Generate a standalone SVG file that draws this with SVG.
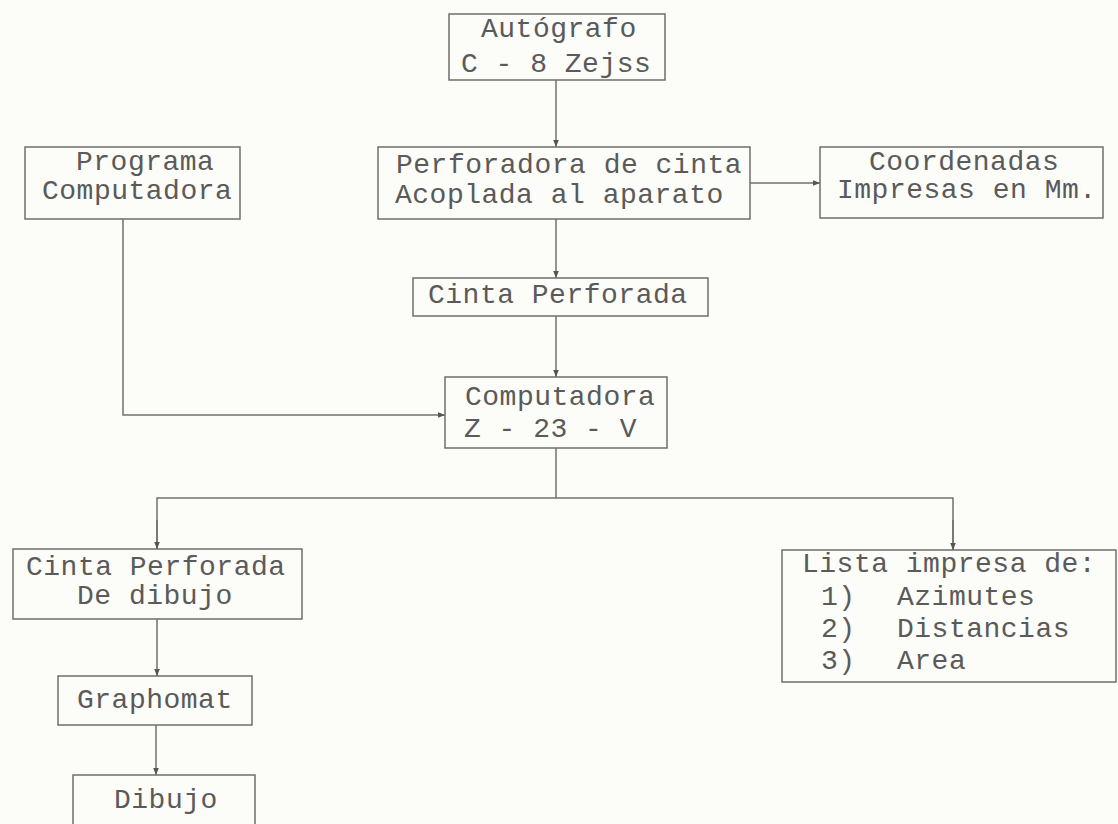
<svg xmlns="http://www.w3.org/2000/svg" width="1118" height="824" viewBox="0 0 1118 824">
<style>
.box{fill:none;stroke:#6e6e6e;stroke-width:1.5}
.t{font-family:"Liberation Mono","Courier New",monospace;font-size:28px;letter-spacing:0.5px;fill:#5a5a5a}
.c{fill:none;stroke:#707070;stroke-width:1.5}
</style>
<defs>
<marker id="ah" viewBox="0 0 10 10" refX="10" refY="5" markerWidth="7" markerHeight="7" markerUnits="userSpaceOnUse" orient="auto">
<path d="M0,1 L10,5 L0,9 z" fill="#555"/>
</marker>
</defs>
<rect width="1118" height="824" fill="#fcfcf8"/>
<g id="connectors">
<line class="c" x1="556" y1="80" x2="556" y2="147" marker-end="url(#ah)"/>
<line class="c" x1="750" y1="183" x2="820" y2="183" marker-end="url(#ah)"/>
<line class="c" x1="556" y1="219" x2="556" y2="278" marker-end="url(#ah)"/>
<line class="c" x1="556" y1="316" x2="556" y2="377" marker-end="url(#ah)"/>
<polyline class="c" points="123,219 123,415 445,415" marker-end="url(#ah)"/>
<line class="c" x1="556" y1="448" x2="556" y2="498"/>
<polyline class="c" points="157,549 157,498 953,498 953,550"/>
<line class="c" x1="157" y1="520" x2="157" y2="549" marker-end="url(#ah)"/>
<line class="c" x1="953" y1="520" x2="953" y2="550" marker-end="url(#ah)"/>
<line class="c" x1="157" y1="619" x2="157" y2="676" marker-end="url(#ah)"/>
<line class="c" x1="156" y1="725" x2="156" y2="775" marker-end="url(#ah)"/>
</g>
<g id="autografo">
<rect class="box" x="449" y="14" width="216" height="66"/>
<text class="t" x="481" y="37">Autógrafo</text>
<text class="t" x="461" y="72">C - 8 Zejss</text>
</g>
<g id="programa">
<rect class="box" x="25" y="147" width="215" height="72"/>
<text class="t" x="76" y="170">Programa</text>
<text class="t" x="42" y="199">Computadora</text>
</g>
<g id="perforadora">
<rect class="box" x="378" y="147" width="372" height="72"/>
<text class="t" x="396" y="173">Perforadora de cinta</text>
<text class="t" x="395" y="203">Acoplada al aparato</text>
</g>
<g id="coordenadas">
<rect class="box" x="820" y="147" width="283" height="71"/>
<text class="t" x="869" y="170">Coordenadas</text>
<text class="t" x="837" y="198">Impresas en Mm.</text>
</g>
<g id="cinta">
<rect class="box" x="413" y="278" width="295" height="38"/>
<text class="t" x="428" y="303">Cinta Perforada</text>
</g>
<g id="computadora">
<rect class="box" x="445" y="377" width="222" height="71"/>
<text class="t" x="465" y="405">Computadora</text>
<text class="t" x="464" y="437">Z - 23 - V</text>
</g>
<g id="cinta-dibujo">
<rect class="box" x="13" y="549" width="289" height="70"/>
<text class="t" x="26" y="575">Cinta Perforada</text>
<text class="t" x="77" y="604">De dibujo</text>
</g>
<g id="graphomat">
<rect class="box" x="58" y="676" width="194" height="49"/>
<text class="t" x="77" y="708">Graphomat</text>
</g>
<g id="dibujo">
<rect class="box" x="73" y="775" width="182" height="70"/>
<text class="t" x="114" y="808">Dibujo</text>
</g>
<g id="lista">
<rect class="box" x="782" y="550" width="334" height="132"/>
<text class="t" x="802" y="572">Lista impresa de:</text>
<text class="t" y="605"><tspan x="821">1)</tspan><tspan x="897">Azimutes</tspan></text>
<text class="t" y="637"><tspan x="821">2)</tspan><tspan x="897">Distancias</tspan></text>
<text class="t" y="669"><tspan x="821">3)</tspan><tspan x="897">Area</tspan></text>
</g>
</svg>
